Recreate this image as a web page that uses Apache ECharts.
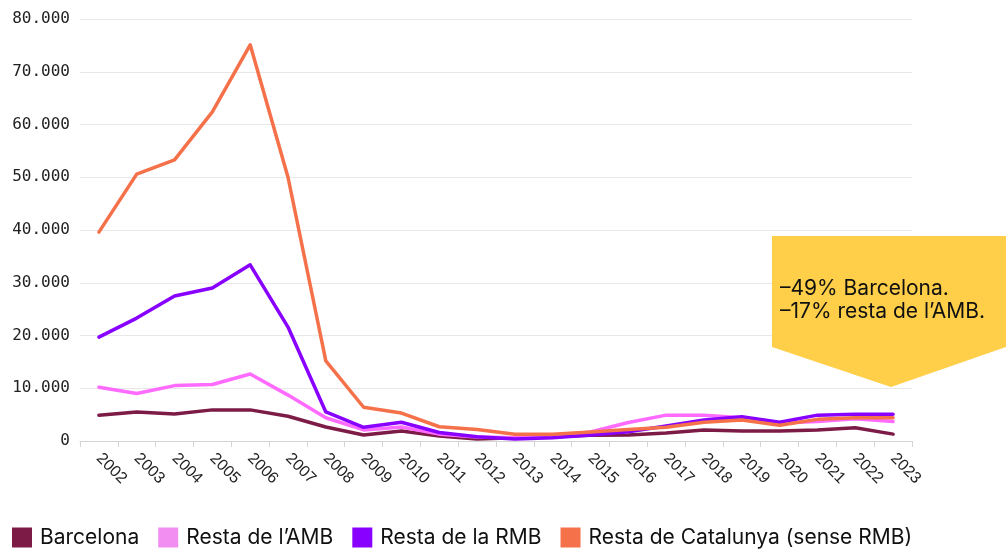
<!DOCTYPE html>
<html>
<head>
<meta charset="utf-8">
<script src="https://cdn.jsdelivr.net/npm/echarts@6/dist/echarts.min.js"></script>
<style>
  html, body { margin: 0; padding: 0; background: #fff; }
  #main { width: 1006px; height: 554px; }
</style>
</head>
<body>
<div id="main"></div>
<script>
const years = ["2002", "2003", "2004", "2005", "2006", "2007", "2008", "2009", "2010", "2011", "2012",
  "2013", "2014", "2015", "2016", "2017", "2018", "2019", "2020", "2021", "2022", "2023"]

const barcelona = [4900, 5500, 5100, 5900, 5900, 4700, 2650, 1150, 1900, 950, 400,
  600, 800, 1100, 1150, 1500, 2100, 1900, 1900, 2100, 2500, 1300]
const restaAmb = [10200, 9000, 10500, 10700, 12700, 8700, 4400, 2100, 2650, 1300, 750,
  600, 800, 1700, 3500, 4900, 4900, 4400, 3400, 3700, 4200, 3700]
const restaRmb = [19700, 23300, 27500, 29000, 33400, 21600, 5500, 2600, 3550, 1600, 800,
  400, 600, 1150, 1750, 2850, 4000, 4600, 3550, 4900, 5050, 5050]
const restaCat = [39600, 50600, 53300, 62400, 75100, 50000, 15200, 6400, 5300, 2700, 2200,
  1300, 1300, 1700, 2200, 2600, 3550, 4000, 3000, 4100, 4400, 4400]

const yTicks = [0, 10000, 20000, 30000, 40000, 50000, 60000, 70000, 80000]

const seriesNames = ["Barcelona", "Resta de l’AMB", "Resta de la RMB", "Resta de Catalunya (sense RMB)"]
const colors = ["#7d1b47", "#ff6bff", "#8800ff", "#f4714a"]
const legendColors = ["#7d1b47", "#f28ef2", "#8800ff", "#f4714a"]
const calloutLines = ["–49% Barcelona.", "–17% resta de l’AMB."]

const myChart = echarts.init(document.getElementById("main"))

function fmt(v) {
  return String(v).replace(/\B(?=(\d{3})+(?!\d))/g, ".")
}

const lines = [barcelona, restaAmb, restaRmb, restaCat].map((data, i) => {
  return {
    name: seriesNames[i],
    type: "line",
    data: data,
    symbol: "none",
    z: 2 + i,
    lineStyle: { width: 3.5, color: colors[i], cap: "round", join: "round" },
    itemStyle: { color: legendColors[i] }
  }
})

myChart.setOption({
  animation: false,
  grid: { left: 80, right: 94, top: 19, bottom: 113 },
  legend: {
    left: 7,
    bottom: 1,
    itemWidth: 20,
    itemHeight: 20,
    itemGap: 19,
    icon: "rect",
    textStyle: { fontFamily: "Inter", fontSize: 21, color: "#111", padding: [0, 0, 0, 3] },
    data: seriesNames
  },
  xAxis: {
    type: "category",
    data: years,
    boundaryGap: true,
    axisLine: { lineStyle: { color: "#d4d4d4", width: 1 } },
    axisTick: { show: true, length: 6, lineStyle: { color: "#d4d4d4" } },
    axisLabel: {
      rotate: -45,
      margin: 15,
      fontFamily: "Liberation Sans",
      fontSize: 16,
      color: "#222"
    }
  },
  yAxis: {
    type: "value",
    min: yTicks[0],
    max: yTicks[yTicks.length - 1],
    interval: 10000,
    axisLine: { show: false },
    axisTick: { show: false },
    splitLine: { lineStyle: { color: "#e8e8e8", width: 1 } },
    axisLabel: {
      margin: 10,
      fontFamily: "DejaVu Sans Mono",
      fontSize: 16,
      color: "#222",
      formatter: v => fmt(v)
    }
  },
  graphic: [
    {
      type: "polygon",
      z: 100,
      shape: {
        points: [[772, 236], [1006, 236], [1006, 347], [891, 387], [772, 347]]
      },
      style: { fill: "#ffcf4a" }
    },
    {
      type: "text",
      z: 101,
      left: 780,
      top: 277,
      style: {
        text: calloutLines.join("\n"),
        font: "21px Inter",
        lineHeight: 23,
        fill: "#111"
      }
    }
  ],
  series: lines
})
</script>
</body>
</html>
